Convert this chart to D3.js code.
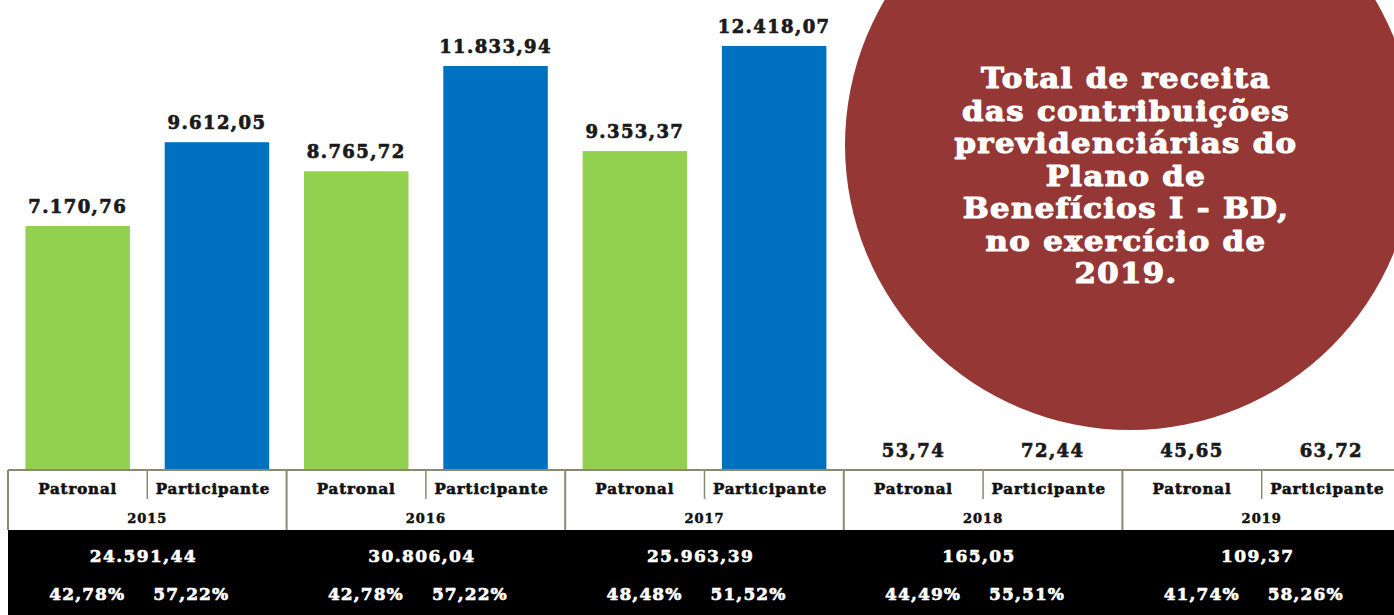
<!DOCTYPE html>
<html>
<head>
<meta charset="utf-8">
<script src="https://cdn.jsdelivr.net/npm/d3@7"></script>
<style>
  html, body { margin: 0; padding: 0; background: #ffffff; }
  svg { display: block; }
  text { font-family: "DejaVu Serif", serif; font-weight: bold; paint-order: stroke; }
</style>
</head>
<body>
<svg id="chart" width="1394" height="615"></svg>
<script>
// Contribuições previdenciárias por ano (R$ mil)
const years = ["2015", "2016", "2017", "2018", "2019"];
const seriesNames = ["Patronal", "Participante"];
const patronal = [7170.76, 8765.72, 9353.37, 53.74, 45.65];
const participante = [9612.05, 11833.94, 12418.07, 72.44, 63.72];
const totals = ["24.591,44", "30.806,04", "25.963,39", "165,05", "109,37"];
const pctPatronal = ["42,78%", "42,78%", "48,48%", "44,49%", "41,74%"];
const pctParticipante = ["57,22%", "57,22%", "51,52%", "55,51%", "58,26%"];
const titleLines = [
  "Total de receita",
  "das contribuições",
  "previdenciárias do",
  "Plano de",
  "Benefícios I - BD,",
  "no exercício de",
  "2019."
];

const colors = { Patronal: "#92d050", Participante: "#0070c0" };
const svg = d3.select("#chart");

const fmt = v => v.toLocaleString("pt-BR", { minimumFractionDigits: 2, maximumFractionDigits: 2 });

// Heavy slab-style lettering: bold face thickened with a same-colour stroke
function heavy(sel, fill, w) {
  return sel.attr("fill", fill).attr("stroke", fill).attr("stroke-width", w).attr("stroke-linejoin", "round");
}

// Scales
const x0 = d3.scaleBand().domain(years).range([8, 1401]).paddingInner(0).paddingOuter(0);
const x1 = d3.scaleBand().domain(seriesNames).range([0, x0.bandwidth()]).paddingInner(0.25).paddingOuter(0.125);
const xs = d3.scaleBand().domain(seriesNames).range([0, x0.bandwidth()]).padding(0);
const y = d3.scaleLinear().domain([0, 13000]).range([472, 26]);

const rows = years.map((yr, i) => ({
  year: yr,
  values: [
    { name: "Patronal", value: patronal[i] },
    { name: "Participante", value: participante[i] }
  ]
}));

// Bars
const groups = svg.append("g").selectAll("g").data(rows).join("g")
  .attr("transform", d => `translate(${x0(d.year)},0)`);

groups.selectAll("rect").data(d => d.values).join("rect")
  .attr("x", d => x1(d.name))
  .attr("width", x1.bandwidth())
  .attr("y", d => y(d.value))
  .attr("height", d => y(0) - y(d.value))
  .attr("fill", d => colors[d.name]);

groups.selectAll("text.val").data(d => d.values).join("text")
  .attr("class", "val")
  .attr("x", d => x1(d.name) + x1.bandwidth() / 2)
  .attr("y", d => y(d.value) - 13)
  .attr("text-anchor", "middle")
  .attr("font-size", 18)
  .attr("letter-spacing", 1.4)
  .call(heavy, "#1a1a1a", 0.7)
  .text(d => fmt(d.value));

// Title disc
const disc = svg.append("g");
disc.append("circle")
  .attr("cx", 1130).attr("cy", 145).attr("r", 285)
  .attr("fill", "#953735");
disc.selectAll("text.title").data(titleLines).join("text")
  .attr("class", "title")
  .attr("transform", (d, i) => `translate(1126,${88 + i * 32.5}) scale(1.12,1)`)
  .attr("text-anchor", "middle")
  .attr("font-size", 27.5)
  .attr("letter-spacing", 1.2)
  .call(heavy, "#ffffff", 1.1)
  .text(d => d);

// Category table
const tableTop = 470, rowMid = 503, tableBottom = 530;
const table = svg.append("g");
table.append("rect")
  .attr("x", x0.range()[0]).attr("y", tableTop)
  .attr("width", x0.range()[1] - x0.range()[0]).attr("height", tableBottom - tableTop)
  .attr("fill", "#ffffff");
const border = "#8a8a72";
table.append("line")
  .attr("x1", x0.range()[0]).attr("x2", x0.range()[1])
  .attr("y1", tableTop).attr("y2", tableTop)
  .attr("stroke", border).attr("stroke-width", 2);

years.forEach(yr => {
  const gx = x0(yr);
  // group divider (left edge)
  table.append("line")
    .attr("x1", gx).attr("x2", gx)
    .attr("y1", tableTop).attr("y2", tableBottom)
    .attr("stroke", border).attr("stroke-width", 2);
  // sub divider
  const sx = gx + xs("Participante");
  table.append("line")
    .attr("x1", sx).attr("x2", sx)
    .attr("y1", tableTop).attr("y2", rowMid - 4)
    .attr("stroke", border).attr("stroke-width", 1.5);
  seriesNames.forEach(n => {
    table.append("text")
      .attr("x", gx + xs(n) + xs.bandwidth() / 2 + (n === "Participante" ? -4 : 0))
      .attr("y", 494)
      .attr("text-anchor", "middle")
      .attr("font-size", 15)
      .attr("letter-spacing", 0.9)
      .call(heavy, "#111111", 0.6)
      .text(n);
  });
  table.append("text")
    .attr("x", gx + x0.bandwidth() / 2)
    .attr("y", 523)
    .attr("text-anchor", "middle")
    .attr("font-size", 13)
    .attr("letter-spacing", 1)
    .call(heavy, "#111111", 0.5)
    .text(yr);
});

// Totals band
const band = svg.append("g");
band.append("rect")
  .attr("x", 8).attr("y", tableBottom)
  .attr("width", 1394 - 8).attr("height", 615 - tableBottom)
  .attr("fill", "#000000");
years.forEach((yr, i) => {
  const cx = x0(yr) + x0.bandwidth() / 2;
  band.append("text")
    .attr("x", cx - 4).attr("y", 562)
    .attr("text-anchor", "middle")
    .attr("font-size", 17)
    .attr("letter-spacing", 1.4)
    .call(heavy, "#ffffff", 0.6)
    .text(totals[i]);
  band.append("text")
    .attr("x", cx - 60).attr("y", 600)
    .attr("text-anchor", "middle")
    .attr("font-size", 17)
    .attr("letter-spacing", 1.1)
    .call(heavy, "#ffffff", 0.6)
    .text(pctPatronal[i]);
  band.append("text")
    .attr("x", cx + 44).attr("y", 600)
    .attr("text-anchor", "middle")
    .attr("font-size", 17)
    .attr("letter-spacing", 1.1)
    .call(heavy, "#ffffff", 0.6)
    .text(pctParticipante[i]);
});
</script>
</body>
</html>
